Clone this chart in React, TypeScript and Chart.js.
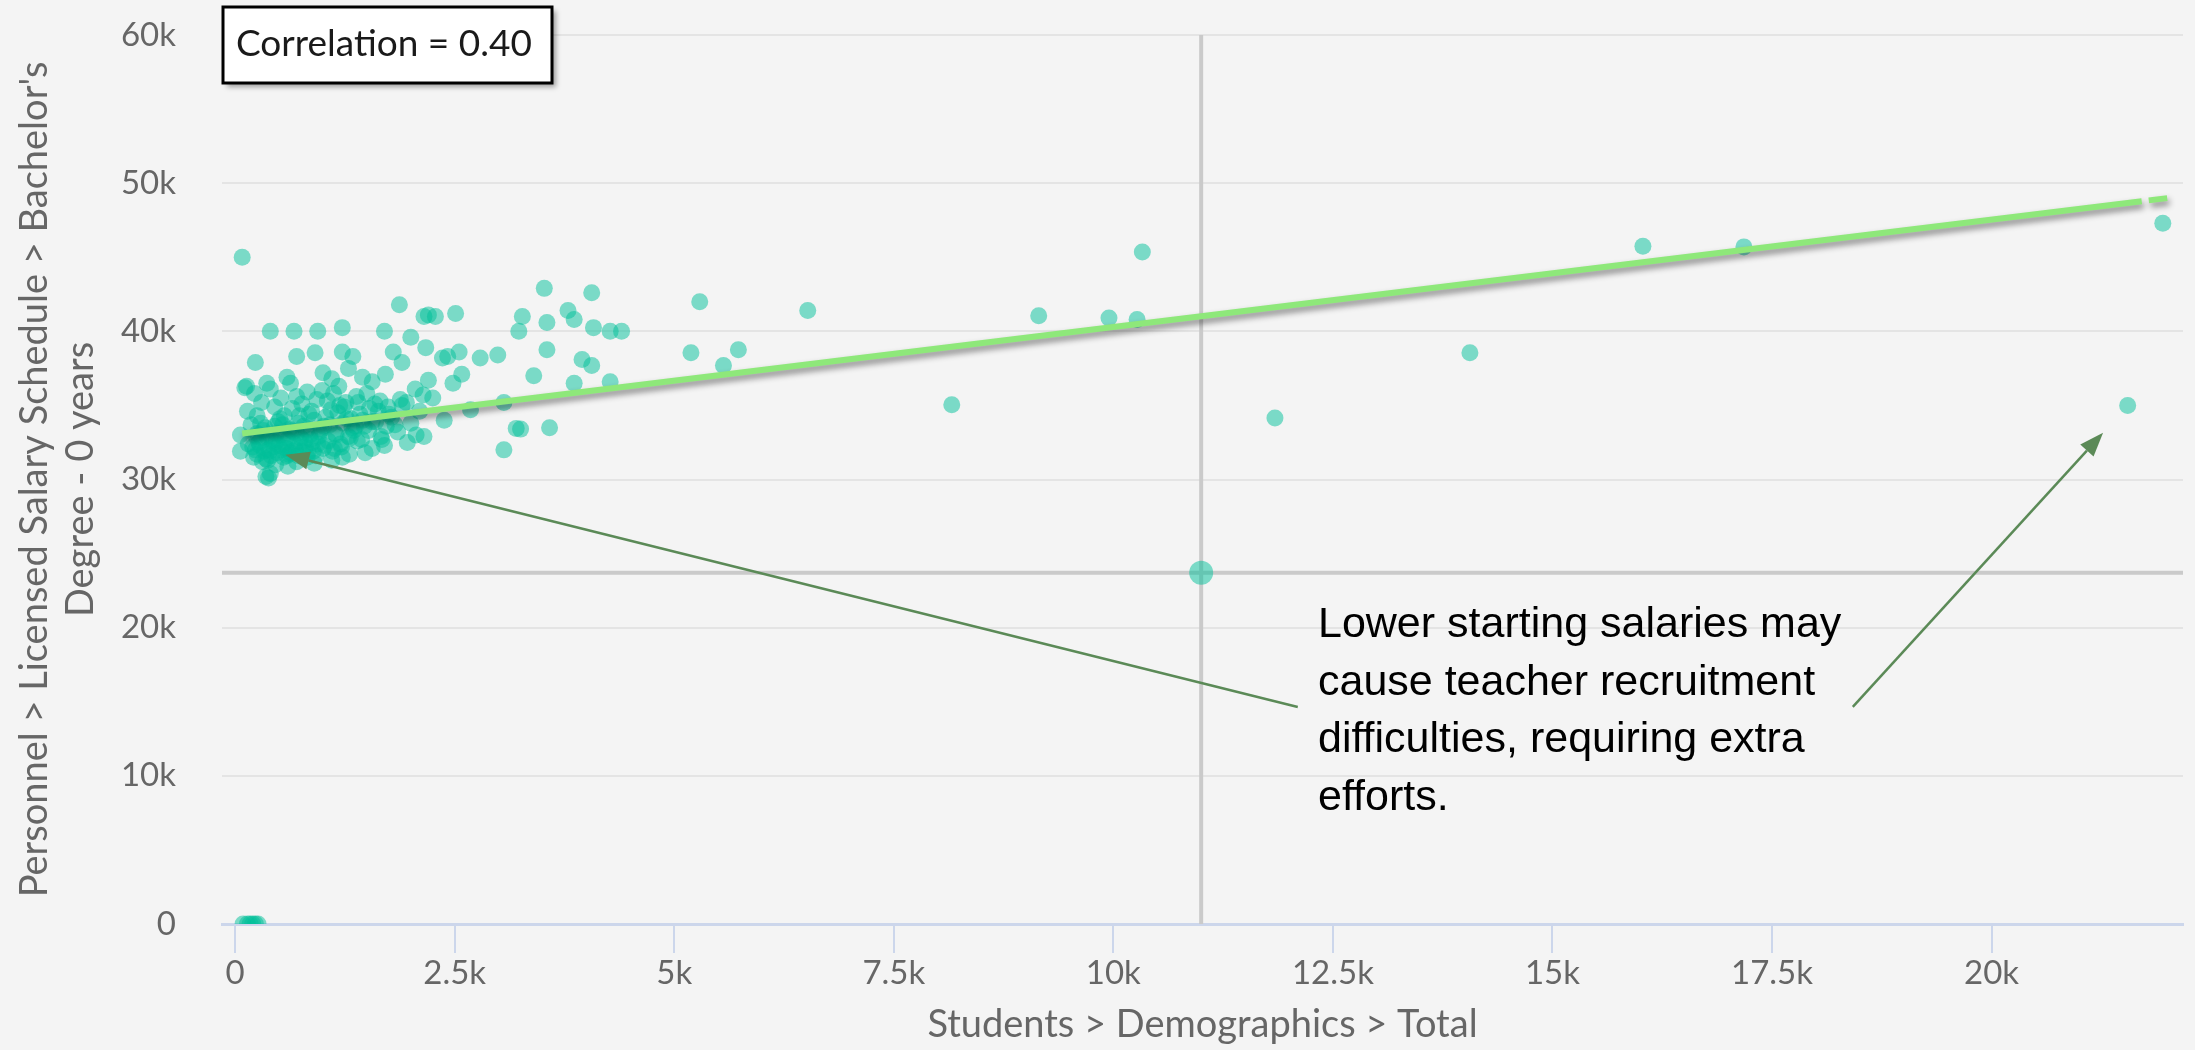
import React, { useEffect, useRef } from "react";
import { Chart, registerables } from "chart.js";

Chart.register(...registerables);

// ---- Data ----
const studentsTotal: number[] = [
  // far points
  5190, 5290, 5560, 5730, 6520, 8160, 9150, 9950, 10270, 10330, 11000, 11840, 14060, 16030, 17180, 21550, 21950,
  // 2.2k - 4.5k
  2280, 2510, 3270, 3230, 3550, 3790, 3860, 4080, 4270, 4400, 3520, 4060, 3550, 3950, 4060, 2420, 2550, 2790, 2990,
  3400, 3860, 4270, 3060, 2680, 3200, 3250, 3580, 3060, 2380, 2480, 2580, 2360, 2250, 2200, 2050,
  // 0 - 2.2k upper
  80, 1870, 2150, 2200, 400, 670, 940, 1220, 1700, 2000, 2170, 230, 700, 910, 1220, 1340, 1800, 1900, 1290, 1710,
  1560, 360, 630, 110, 130, 590, 1000, 1100, 1450,
  // dense edge
  60, 60, 140, 380, 600, 1220, 1440, 1560, 1670, 1960, 1740, 1900, 1400,
  // dense mass
  200, 250, 300, 320, 350, 380, 420, 450, 480, 500, 520, 550, 580, 600, 620, 650, 680, 700, 720, 750, 780, 800, 830,
  850, 880, 900, 920, 950, 980, 1000, 1030, 1060, 1080, 1110, 1140, 1170, 1200, 1230, 1260, 1290, 1320, 1350, 1380,
  1420, 1470, 1500, 1530, 1600, 1650, 1720, 1780, 1850, 2000, 2100, 2150,
  // upper lobe
  650, 700, 760, 820, 870, 930, 990, 1050, 1120, 1180, 1240, 450, 520, 300, 250, 180, 150, 220, 400, 560,
  // extra density
  270, 330, 360, 410, 440, 470, 530, 570, 610, 660, 690, 740, 770, 810, 860, 310, 460, 700, 250, 540,
  // low
  350, 400, 900, 1100, 1300,
  // more density
  210, 240, 280, 340, 390, 430, 490, 560, 630, 720, 790, 840, 890, 960, 1020, 1090, 1150, 1210, 1270, 1330,
  1390, 1450, 1520, 1590, 1660, 1750, 1820, 1950, 2060, 2140,
  230, 290, 370, 460, 510, 590, 640, 730, 820, 940, 1010, 1130, 1190, 1310, 1370, 1480, 1560, 1630, 1700, 1880,
  // zero salary
  90, 140, 170, 200, 230, 260,
];

const salaryBachelor0: number[] = [
  38550, 42000, 37700, 38750, 41400, 35050, 41050, 40900, 40800, 45350, 23700, 34150, 38550, 45750, 45700, 35000, 47300,
  41000, 41200, 41000, 40000, 40600, 41400, 40800, 40250, 40000, 40000, 42900, 42600, 38750, 38100, 37700, 38300, 38600, 38200, 38400,
  37000, 36500, 36600, 35200, 34700, 33450, 33400, 33500, 32000, 34000, 36500, 37100, 38200, 35500, 36700, 36100,
  45000, 41800, 41000, 41100, 40000, 40000, 40000, 40250, 40000, 39600, 38900, 37900, 38300, 38550, 38600, 38300, 38600, 37900, 37500, 37100,
  36600, 36500, 36500, 36200, 36300, 36900, 37200, 36800, 36900,
  33000, 31900, 34600, 30100, 30900, 31500, 32700, 32100, 32700, 32500, 34900, 35000, 35200,
  32200, 31700, 32800, 33300, 31400, 32000, 32600, 33600, 31800, 32300, 33000, 31500, 32100, 32700, 33400, 31900, 32400, 33100, 31600, 32800, 33600, 32200, 31800,
  33000, 32500, 34000, 31600, 32900, 33400, 32100, 34200, 32600, 33700, 31900, 33100, 34500, 32400, 33800, 35200, 32900, 34100, 33300, 35600,
  34400, 33600, 35800, 34800, 33900, 35300, 33600, 34200, 33200, 33800, 34600, 32900,
  34800, 35600, 35100, 35900, 34600, 35400, 36000, 35300, 35800, 36300, 34900, 34900, 35500, 35200, 34300, 33700, 32400, 35800, 36100, 34300,
  32500, 31900, 32900, 31600, 32200, 33100, 32000, 32800, 31700, 33200, 32000, 32500, 31900, 33300, 32700, 31200, 31000, 31200, 33100, 33700,
  30200, 30400, 31100, 31300, 31700,
  31500, 32900, 32300, 33500, 31900, 32700, 33900, 32400, 31800, 33800, 32600, 34400, 31900, 33200, 32300, 34700, 33000, 32200, 34100, 33500,
  32600, 34000, 33300, 35100, 32900, 34400, 33700, 35200, 33000, 35700,
  32000, 33800, 31300, 32500, 34100, 31600, 33300, 34300, 31500, 32400, 33600, 32100, 35000, 32800, 33600, 31800, 33900, 34600, 32300, 35400,
  0, 0, 0, 0, 0, 0,
];

// Trend line (regression) endpoints, with the small break near its end
const trendX: number[] = [80, 21710, 21750, 21790, 22000];
const trendY: (number | null)[] = [33100, 48780, null, 48840, 48990];

const xTickValues: number[] = [0, 2500, 5000, 7500, 10000, 12500, 15000, 17500, 20000];
const yTickValues: number[] = [0, 10000, 20000, 30000, 40000, 50000, 60000];

const crossX = 11000;
const crossY = 23700;

const correlationText = "Correlation = 0.40";
const noteLines: string[] = [
  "Lower starting salaries may",
  "cause teacher recruitment",
  "difficulties, requiring extra",
  "efforts.",
];
// annotation anchors, in data units
const noteAnchor = { x: 12330, y: 19350 };
const arrow1 = { fromX: 12100, fromY: 14650, toX: 570, toY: 31670 };
const arrow2 = { fromX: 18420, fromY: 14650, toX: 21270, toY: 33150 };

const fmtK = (v: number) => (v === 0 ? "0" : `${v / 1000}k`);

const TICK_FONT = "Lato, 'Open Sans', sans-serif";

function drawArrow(ctx: CanvasRenderingContext2D, x1: number, y1: number, x2: number, y2: number) {
  const ang = Math.atan2(y2 - y1, x2 - x1);
  const headLen = 24;
  const headW = 9;
  const bx = x2 - headLen * Math.cos(ang);
  const by = y2 - headLen * Math.sin(ang);
  ctx.beginPath();
  ctx.moveTo(x1, y1);
  ctx.lineTo(bx, by);
  ctx.stroke();
  ctx.beginPath();
  ctx.moveTo(x2, y2);
  ctx.lineTo(bx + headW * Math.sin(ang), by - headW * Math.cos(ang));
  ctx.lineTo(bx - headW * Math.sin(ang), by + headW * Math.cos(ang));
  ctx.closePath();
  ctx.fill();
}

const overlayPlugin = {
  id: "overlay",
  beforeDatasetsDraw(chart: any) {
    const { ctx, chartArea, scales } = chart;
    const px = scales.x.getPixelForValue(crossX);
    const py = scales.y.getPixelForValue(crossY);
    ctx.save();
    ctx.strokeStyle = "#cacaca";
    ctx.lineWidth = 4;
    ctx.beginPath();
    ctx.moveTo(px, chartArea.top);
    ctx.lineTo(px, chartArea.bottom);
    ctx.stroke();
    ctx.beginPath();
    ctx.moveTo(chartArea.left, py);
    ctx.lineTo(chartArea.right, py);
    ctx.stroke();
    ctx.restore();
  },
  beforeDatasetDraw(chart: any, args: any) {
    if (args.index === 0) {
      const ctx = chart.ctx;
      ctx.save();
      ctx.shadowColor = "rgba(0,0,0,0.45)";
      ctx.shadowBlur = 6;
      ctx.shadowOffsetX = 2;
      ctx.shadowOffsetY = 4;
    }
  },
  afterDatasetDraw(chart: any, args: any) {
    if (args.index === 0) chart.ctx.restore();
  },
  afterDraw(chart: any) {
    const { ctx, chartArea, scales } = chart;
    const xs = scales.x;
    const ys = scales.y;

    // Correlation box
    ctx.save();
    const bx = chartArea.left + 1;
    const by = chartArea.top - 28;
    const bw = 329;
    const bh = 76;
    ctx.shadowColor = "rgba(0,0,0,0.35)";
    ctx.shadowBlur = 5;
    ctx.shadowOffsetX = 4;
    ctx.shadowOffsetY = 4;
    ctx.fillStyle = "#ffffff";
    ctx.fillRect(bx, by, bw, bh);
    ctx.shadowColor = "transparent";
    ctx.lineWidth = 3;
    ctx.strokeStyle = "#000000";
    ctx.strokeRect(bx, by, bw, bh);
    ctx.fillStyle = "#1a1a1a";
    ctx.font = `37px ${TICK_FONT}`;
    ctx.textBaseline = "middle";
    ctx.textAlign = "left";
    ctx.fillText(correlationText, bx + 13, by + bh / 2 - 1);
    ctx.restore();

    // Arrows
    ctx.save();
    ctx.strokeStyle = "#5b8a57";
    ctx.fillStyle = "#5b8a57";
    ctx.lineWidth = 2.5;
    drawArrow(ctx, xs.getPixelForValue(arrow1.fromX), ys.getPixelForValue(arrow1.fromY), xs.getPixelForValue(arrow1.toX), ys.getPixelForValue(arrow1.toY));
    drawArrow(ctx, xs.getPixelForValue(arrow2.fromX), ys.getPixelForValue(arrow2.fromY), xs.getPixelForValue(arrow2.toX), ys.getPixelForValue(arrow2.toY));
    ctx.restore();

    // Note text
    ctx.save();
    ctx.fillStyle = "#000000";
    ctx.font = "43px 'Liberation Sans', sans-serif";
    ctx.textAlign = "left";
    ctx.textBaseline = "alphabetic";
    const tx = xs.getPixelForValue(noteAnchor.x);
    const ty = ys.getPixelForValue(noteAnchor.y);
    noteLines.forEach((line, i) => ctx.fillText(line, tx, ty + i * 57.5));
    ctx.restore();
  },
};

export default function App() {
  const canvasRef = useRef<HTMLCanvasElement | null>(null);

  useEffect(() => {
    document.body.style.margin = "0";
    document.body.style.background = "#f4f4f4";
    const canvas = canvasRef.current;
    if (!canvas) return;

    const points = studentsTotal.map((x, i) => ({ x, y: salaryBachelor0[i] }));
    const trend = trendX.map((x, i) => ({ x, y: trendY[i] }));
    const hiIndex = studentsTotal.findIndex((v, i) => v === crossX && salaryBachelor0[i] === crossY);

    const chart = new Chart(canvas, {
      type: "scatter",
      data: {
        datasets: [
          {
            label: "Trend",
            data: trend as any,
            showLine: true,
            spanGaps: false,
            borderColor: "#8ee87a",
            borderWidth: 6,
            pointRadius: 0,
            fill: false,
          } as any,
          {
            label: "Districts",
            data: points,
            backgroundColor: "rgba(0,191,154,0.5)",
            borderWidth: 0,
            pointRadius: (c: any) => (c.dataIndex === hiIndex ? 12 : 8.5),
            pointHoverRadius: 8.5,
          } as any,
        ],
      },
      options: {
        responsive: false,
        animation: false,
        events: [],
        layout: { padding: { top: 35, right: 10, bottom: 0, left: 0 } },
        plugins: {
          legend: { display: false },
          tooltip: { enabled: false },
        },
        scales: {
          x: {
            type: "linear",
            min: -150,
            max: 22180,
            afterBuildTicks: (scale: any) => {
              scale.ticks = xTickValues.map((v) => ({ value: v }));
            },
            afterFit: (scale: any) => {
              scale.height = 126;
            },
            border: { display: true, color: "#ccd6eb", width: 3 },
            grid: {
              drawOnChartArea: false,
              drawTicks: true,
              tickLength: 29,
              color: "#ccd6eb",
              lineWidth: 2,
            },
            ticks: {
              padding: 1,
              color: "#666666",
              font: { family: TICK_FONT, size: 33 },
              maxRotation: 0,
              autoSkip: false,
              callback: (v: any) => fmtK(Number(v)),
            },
            title: {
              display: true,
              text: "Students > Demographics > Total",
              color: "#666666",
              font: { family: TICK_FONT, size: 38 },
              padding: { top: 0, bottom: 2 },
            },
          },
          y: {
            type: "linear",
            min: 0,
            max: 60000,
            afterBuildTicks: (scale: any) => {
              scale.ticks = yTickValues.map((v) => ({ value: v }));
            },
            afterFit: (scale: any) => {
              scale.width = 222;
            },
            border: { display: false },
            grid: {
              drawTicks: true,
              tickLength: 44,
              tickColor: "rgba(0,0,0,0)",
              color: "#e4e4e4",
              lineWidth: 2,
            },
            ticks: {
              padding: 2,
              color: "#666666",
              font: { family: TICK_FONT, size: 33 },
              callback: (v: any) => fmtK(Number(v)),
            },
            title: {
              display: true,
              text: ["Personnel > Licensed Salary Schedule > Bachelor's", "Degree - 0 years"],
              color: "#666666",
              font: { family: TICK_FONT, size: 38, lineHeight: 1.2 },
              padding: { top: 12, bottom: 0 },
            },
          },
        },
      },
      plugins: [overlayPlugin],
    });

    return () => chart.destroy();
  }, []);

  return (
    <div style={{ width: 2195, height: 1050, background: "#f4f4f4" }}>
      <canvas ref={canvasRef} width={2195} height={1050} style={{ display: "block" }} />
    </div>
  );
}
